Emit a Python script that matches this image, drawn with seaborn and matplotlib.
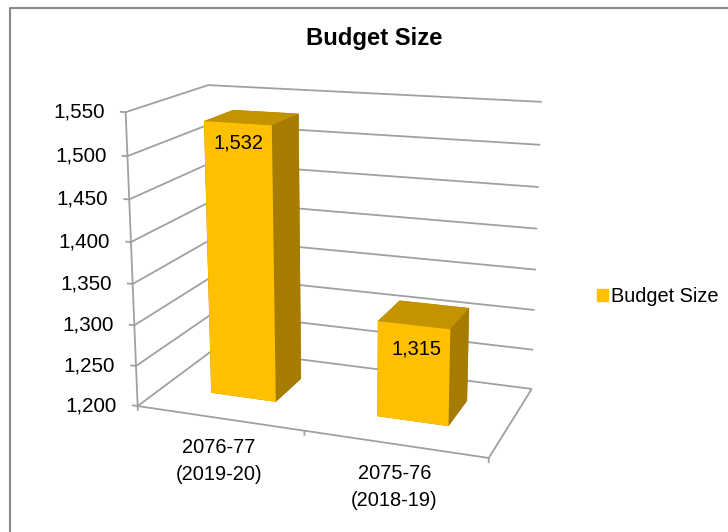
import numpy as np
import matplotlib
matplotlib.use("Agg")
import matplotlib.pyplot as plt
from matplotlib.lines import Line2D
from matplotlib.patches import Patch
import seaborn as sns

categories = ["2076-77\n(2019-20)", "2075-76\n(2018-19)"]
budget_size = [1532, 1315]
axis_ticks = [1200, 1250, 1300, 1350, 1400, 1450, 1500, 1550]
series_name = "Budget Size"

FRONT, TOP, SIDE = "#FFC000", "#C49300", "#A67C00"
GRID = "#A0A0A0"
BAR_X = 0.30
BAR_W = 0.40
BAR_Y0, BAR_Y1 = 0.32, 0.70
Z0, Z1 = axis_ticks[0], axis_ticks[-1]
WIDTH, HEIGHT = 728, 532
VALUE_NUDGE = [(1, 20), (3, 24)]

sns.set_theme(style="white")
plt.rcParams["font.family"] = ["Liberation Sans", "DejaVu Sans"]

# Camera calibration: scene points (category, depth, value) and where they land in pixels.
scene = np.array([
    [0, 0, Z0], [2, 0, Z0], [2, 1, Z0], [0, 1, Z0],
    [0, 0, Z1], [0, 1, Z1], [2, 1, Z1],
    [.3, BAR_Y0, 1532], [.7, BAR_Y0, 1532], [.7, BAR_Y1, 1532], [.3, BAR_Y1, 1532],
    [.3, BAR_Y0, Z0], [.7, BAR_Y0, Z0], [.7, BAR_Y1, Z0],
    [1.3, BAR_Y0, 1315], [1.7, BAR_Y0, 1315], [1.7, BAR_Y1, 1315], [1.3, BAR_Y1, 1315],
    [1.3, BAR_Y0, Z0], [1.7, BAR_Y0, Z0], [1.7, BAR_Y1, Z0],
], float)
pixels = np.array([
    [137.7, 405], [490, 456], [531.7, 388], [216, 348],
    [126, 111.7], [207.3, 85], [541, 101],
    [203.7, 121], [272, 125.7], [299.3, 114], [234, 110],
    [210, 393.3], [275.3, 402.3], [301, 378.7],
    [377.7, 322], [450, 330], [469, 308.3], [400.3, 300.7],
    [376.7, 416.7], [448.3, 426.7], [467.3, 401.7],
], float)


def fit_camera(points, targets):
    """Direct linear transform from scene coordinates to pixels."""
    scale = np.diag([0.5, 1.0, 1.0 / (Z1 - Z0), 1.0])
    scale[2, 3] = -Z0 / (Z1 - Z0)
    rows = []
    for p, (u, v) in zip(points, targets):
        h = scale @ np.append(p, 1.0)
        rows.append(np.r_[h, np.zeros(4), -u * h])
        rows.append(np.r_[np.zeros(4), h, -v * h])
    cam = np.linalg.svd(np.array(rows))[2][-1].reshape(3, 4) @ scale
    return cam / (cam[2] @ np.array([0, 0, Z0, 1.0]))


camera = fit_camera(scene, pixels)
# Depth row: far, left and low faces get larger values and are painted first.
depth = np.array([-0.1, 1.0, -0.3 / (Z1 - Z0), 0.3 * Z0 / (Z1 - Z0)])
view = np.vstack([camera[0], camera[1], depth, camera[2]])

fig = plt.figure(figsize=(WIDTH / 100, HEIGHT / 100), dpi=100, facecolor="white")
ax = fig.add_axes([0, 0, 1, 1], projection="3d", computed_zorder=False)
ax.set_proj_type("ortho")
ax.set_axis_off()
ax.patch.set_alpha(0)
ax.apply_aspect = lambda position=None: None
ax.get_proj = lambda: view


def label(x, y, z, text, dx=0, dy=0, size=14.4, **kwargs):
    """Place text at a scene point, nudged by a pixel offset on screen."""
    u, v, w = camera @ np.array([x, y, z, 1.0])
    fig.text((u / w + dx) / WIDTH, 1 - (v / w + dy) / HEIGHT, text, color="black",
             va="center", fontsize=size, **kwargs)


line = dict(color=GRID, lw=1.3, zorder=2, solid_capstyle="butt")

# Side and back wall gridlines with the value-axis ticks
for tick in axis_ticks:
    ax.plot([-0.035, 0, 0, 2], [0, 0, 1, 1], [tick] * 4, **line)
    label(0, 0, tick, f"{tick:,}", dx=-21, size=14.9, ha="right")

# Value axis, floor outline and category ticks
ax.plot([0, 0], [0, 0], [Z0, Z1], **line)
ax.plot([0, 2, 2], [0, 0, 1], [Z0] * 3, **line)
for pos in [0, 1, 2]:
    ax.plot([pos, pos], [0, 0], [Z0 - 6, Z0], **line)

# Bars, with one colour per face: bottom, top, front, back, left, right
face_colors = [SIDE, TOP, FRONT, SIDE, SIDE, SIDE]
for i, (name, value) in enumerate(zip(categories, budget_size)):
    ax.bar3d(i + BAR_X, BAR_Y0, Z0, BAR_W, BAR_Y1 - BAR_Y0, value - Z0,
             color=face_colors, shade=False, zorder=3, edgecolor="none", linewidth=0)
    nudge_x, nudge_y = VALUE_NUDGE[i]
    label(i + 0.5, BAR_Y0, value, f"{value:,}", dx=nudge_x, dy=nudge_y, ha="center")
    label(i + 0.5, 0, Z0, name, dy=43, ha="center", multialignment="center", linespacing=1.5)

ax.viewLim.intervalx = (0, WIDTH)
ax.viewLim.intervaly = (HEIGHT, 0)

fig.suptitle(series_name, x=374 / WIDTH, y=1 - 38 / HEIGHT, ha="center", va="center",
             fontsize=17.2, fontweight="bold", color="black")

fig.legend(handles=[Patch(color=FRONT, label=series_name)], loc="center left",
           bbox_to_anchor=(597 / WIDTH, 1 - 297 / HEIGHT), frameon=False, fontsize=14.4,
           labelcolor="black", borderpad=0, borderaxespad=0, handlelength=0.55,
           handleheight=0.55, handletextpad=0.15)

# Chart-area frame: it runs off the right and bottom of the image
fig.add_artist(Line2D([9.5 / WIDTH, 9.5 / WIDTH, 1], [0, 1 - 7.5 / HEIGHT, 1 - 7.5 / HEIGHT],
                      color="#8A8A8A", lw=1.5, transform=fig.transFigure))

fig.savefig("out.png", dpi=100)
